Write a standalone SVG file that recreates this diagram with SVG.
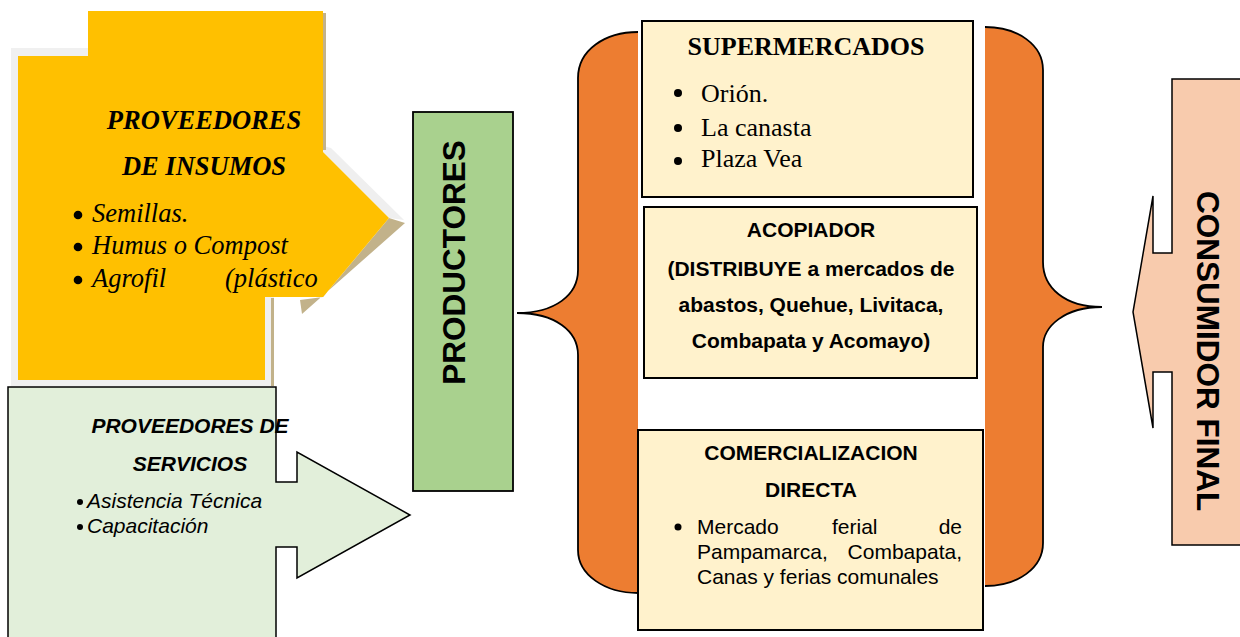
<svg xmlns="http://www.w3.org/2000/svg" width="1240" height="637" viewBox="0 0 1240 637">
<style>
.serif{font-family:"Liberation Serif","Times New Roman",serif;fill:#000}
.sans{font-family:"Liberation Sans",Arial,sans-serif;fill:#000}
.box{fill:#fff2cc;stroke:#000;stroke-width:2}
.line{fill:none;stroke:#000;stroke-width:1.8}
.orange{fill:#ed7d31}
</style>
<rect width="1240" height="637" fill="#fff"/>
<g id="proveedores-insumos">
<polygon points="11,48 88,48 88,56 18,56 18,380 265,380 265,297 274,297 274,386 11,386" fill="#f0f0f0"/>
<polygon points="323,146 331,148 404,220 389,218 323,152" fill="#efefef"/>
<polygon points="389,218 405,223 302,314 300,300 323,297" fill="#c2b28a"/>
<rect x="323" y="13" width="3" height="137" fill="#c2b28a"/>
<rect x="271" y="298" width="3" height="88" fill="#c2b28a"/>
<polygon points="88,11 323,11 323,152 389,218 323,297 265,297 265,380 18,380 18,56 88,56" fill="#ffc000"/>
<text class="serif" x="204" y="129" font-size="26.5" font-weight="bold" font-style="italic" text-anchor="middle">PROVEEDORES</text>
<text class="serif" x="204" y="175" font-size="26.5" font-weight="bold" font-style="italic" text-anchor="middle">DE INSUMOS</text>
<circle cx="78" cy="215" r="4.3"/>
<circle cx="78" cy="247" r="4.3"/>
<circle cx="78" cy="280" r="4.3"/>
<text class="serif" x="92" y="222" font-size="26.5" font-style="italic">Semillas.</text>
<text class="serif" x="92" y="254" font-size="26.5" font-style="italic">Humus o Compost</text>
<text class="serif" x="92" y="287" font-size="26.5" font-style="italic">Agrofil</text>
<text class="serif" x="225" y="287" font-size="26.5" font-style="italic">(plástico</text>
</g>
<g id="proveedores-servicios">
<polygon points="8,387 276,387 276,482 297,482 297,452 410,515 297,578 297,547 276,547 276,642 8,642" fill="#e2efda" stroke="#000" stroke-width="1.5"/>
<text class="sans" x="190" y="433" font-size="21" font-weight="bold" font-style="italic" text-anchor="middle">PROVEEDORES DE</text>
<text class="sans" x="190" y="471" font-size="21" font-weight="bold" font-style="italic" text-anchor="middle">SERVICIOS</text>
<circle cx="80" cy="502" r="3"/>
<circle cx="80" cy="527" r="3"/>
<text class="sans" x="87" y="508" font-size="21" font-style="italic">Asistencia Técnica</text>
<text class="sans" x="87" y="533" font-size="21" font-style="italic">Capacitación</text>
</g>
<g id="productores">
<rect x="413" y="112" width="100" height="379" fill="#a9d18e" stroke="#000" stroke-width="1.8"/>
<text class="sans" transform="translate(465,262.5) rotate(-90)" font-size="31.5" font-weight="bold" text-anchor="middle">PRODUCTORES</text>
</g>
<g id="connectors">
<path class="orange" d="M638,32 C605,32 578,50 578,78 L578,270 C578,295 555,313 517,313 C555,313 578,331 578,355 L578,550 C578,575 605,593 638,593 Z"/>
<path class="line" d="M638,32 C605,32 578,50 578,78 L578,270 C578,295 555,313 517,313 C555,313 578,331 578,355 L578,550 C578,575 605,593 638,593"/>
<path class="orange" d="M985,27 C1018,27 1043,45 1043,70 L1043,262 C1043,288 1065,307 1102,307 C1065,307 1043,326 1043,347 L1043,543 C1043,568 1018,586 985,586 Z"/>
<path class="line" d="M985,27 C1018,27 1043,45 1043,70 L1043,262 C1043,288 1065,307 1102,307 C1065,307 1043,326 1043,347 L1043,543 C1043,568 1018,586 985,586"/>
</g>
<g id="supermercados">
<rect class="box" x="642" y="21" width="331" height="176"/>
<text class="serif" x="806" y="55" font-size="26" font-weight="bold" text-anchor="middle">SUPERMERCADOS</text>
<circle cx="678" cy="93" r="4"/>
<circle cx="678" cy="128" r="4"/>
<circle cx="678" cy="161" r="4"/>
<text class="serif" x="701" y="102" font-size="26">Orión.</text>
<text class="serif" x="701" y="136" font-size="26">La canasta</text>
<text class="serif" x="701" y="167" font-size="26">Plaza Vea</text>
</g>
<g id="acopiador">
<rect class="box" x="644" y="207" width="333" height="171"/>
<text class="sans" x="811" y="237" font-size="21" font-weight="bold" text-anchor="middle">ACOPIADOR</text>
<text class="sans" x="811" y="276" font-size="21" font-weight="bold" text-anchor="middle">(DISTRIBUYE a mercados de</text>
<text class="sans" x="811" y="312" font-size="21" font-weight="bold" text-anchor="middle">abastos, Quehue, Livitaca,</text>
<text class="sans" x="811" y="348" font-size="21" font-weight="bold" text-anchor="middle">Combapata y Acomayo)</text>
</g>
<g id="comercializacion-directa">
<rect class="box" x="638" y="430" width="345" height="200"/>
<text class="sans" x="811" y="460" font-size="21" font-weight="bold" text-anchor="middle">COMERCIALIZACION</text>
<text class="sans" x="811" y="497" font-size="21" font-weight="bold" text-anchor="middle">DIRECTA</text>
<circle cx="678" cy="527" r="3.5"/>
<text class="sans" x="697" y="534" font-size="21">Mercado</text>
<text class="sans" x="832" y="534" font-size="21">ferial</text>
<text class="sans" x="962" y="534" font-size="21" text-anchor="end">de</text>
<text class="sans" x="697" y="559" font-size="21">Pampamarca,</text>
<text class="sans" x="962" y="559" font-size="21" text-anchor="end">Combapata,</text>
<text class="sans" x="697" y="584" font-size="21">Canas y ferias comunales</text>
</g>
<g id="consumidor-final">
<polygon points="1172,79 1242,79 1242,545 1172,545 1172,372 1153,372 1153,428 1133,312 1153,196 1153,253 1172,253" fill="#f8cbad" stroke="#000" stroke-width="1.5"/>
<text class="sans" transform="translate(1197,351) rotate(90)" font-size="31.5" font-weight="bold" text-anchor="middle">CONSUMIDOR FINAL</text>
</g>
</svg>
